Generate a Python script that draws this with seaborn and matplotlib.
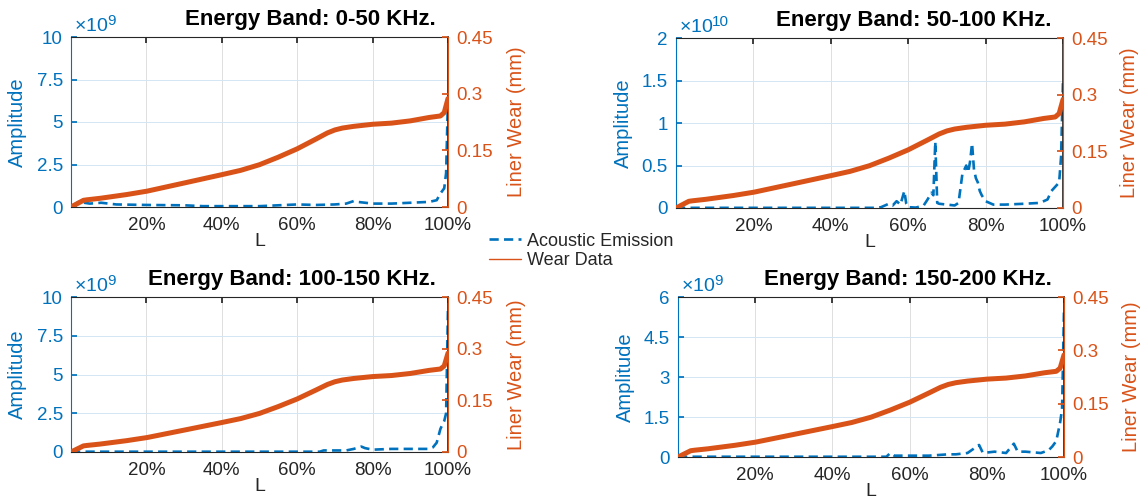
import numpy as np
import pandas as pd
import matplotlib.pyplot as plt
import seaborn as sns
from matplotlib.lines import Line2D

# wear curve (same in every panel), L as fraction of life, wear in mm
wear_L = [0.0, 0.033, 0.042, 0.077, 0.148, 0.202, 0.30, 0.40, 0.45, 0.50, 0.55,
          0.60, 0.65, 0.68, 0.70, 0.72, 0.75, 0.80, 0.85, 0.90, 0.95, 0.98, 0.99, 1.0]
wear_mm = [0.0, 0.0177, 0.019, 0.023, 0.033, 0.042, 0.0635, 0.0856, 0.097, 0.112, 0.132,
           0.154, 0.180, 0.196, 0.204, 0.209, 0.2135, 0.219, 0.222, 0.228, 0.237, 0.241,
           0.25, 0.287]

# acoustic emission amplitude, in units of 1e9
ae_L_0_50 = [0.0, 0.02, 0.05, 0.08, 0.12, 0.20, 0.30, 0.35, 0.40, 0.50, 0.55, 0.60,
             0.65, 0.70, 0.73, 0.75, 0.76, 0.78, 0.80, 0.85, 0.90, 0.95, 0.97,
             0.98, 0.99, 0.995, 1.0]
ae_0_50 = [0.0, 0.3, 0.2, 0.25, 0.15, 0.12, 0.1, 0.05, 0.05, 0.05, 0.1, 0.15,
           0.12, 0.15, 0.2, 0.35, 0.3, 0.25, 0.2, 0.2, 0.25, 0.3, 0.4,
           0.8, 1.1, 2.0, 6.5]

ae_L_50_100 = [0.0, 0.52, 0.53, 0.55, 0.56, 0.57, 0.58, 0.59, 0.595, 0.60, 0.62, 0.64,
               0.65, 0.66, 0.665, 0.67, 0.675, 0.68, 0.70, 0.72, 0.73, 0.74, 0.75,
               0.755, 0.76, 0.765, 0.77, 0.775, 0.78, 0.785, 0.79, 0.80, 0.82, 0.85,
               0.90, 0.94, 0.96, 0.97, 0.98, 0.99, 0.995, 1.0]
ae_50_100 = [0.02, 0.02, 0.1, 0.5, 0.3, 0.8, 0.4, 2.0, 0.5, 0.1, 0.05, 0.3,
             1.0, 1.8, 1.5, 7.8, 0.6, 0.5, 0.4, 0.3, 0.6, 4.0, 5.0,
             4.2, 5.5, 7.6, 4.5, 3.5, 3.0, 2.0, 1.5, 0.8, 0.4, 0.4,
             0.5, 0.6, 1.0, 2.0, 2.5, 3.0, 6.0, 15.0]

ae_L_100_150 = [0.0, 0.66, 0.67, 0.70, 0.73, 0.75, 0.77, 0.78, 0.80, 0.85, 0.90,
                0.95, 0.96, 0.97, 0.98, 0.99, 0.995, 1.0]
ae_100_150 = [0.02, 0.02, 0.1, 0.1, 0.1, 0.2, 0.35, 0.25, 0.15, 0.2, 0.2,
              0.2, 0.3, 0.6, 1.5, 2.0, 2.5, 9.3]

ae_L_150_200 = [0.0, 0.54, 0.55, 0.56, 0.60, 0.65, 0.70, 0.72, 0.75, 0.78, 0.79,
                0.82, 0.85, 0.87, 0.88, 0.90, 0.94, 0.96, 0.97, 0.98, 0.99, 0.995, 1.0]
ae_150_200 = [0.01, 0.01, 0.15, 0.05, 0.05, 0.05, 0.1, 0.1, 0.15, 0.45, 0.15,
              0.2, 0.15, 0.5, 0.2, 0.2, 0.15, 0.25, 0.4, 0.6, 1.3, 1.8, 5.5]

titles = ["Energy Band: 0-50 KHz.", "Energy Band: 50-100 KHz.",
          "Energy Band: 100-150 KHz.", "Energy Band: 150-200 KHz."]
amp_max = [10e9, 2e10, 10e9, 6e9]
amp_tick_labels = [["0", "2.5", "5", "7.5", "10"],
                   ["0", "0.5", "1", "1.5", "2"],
                   ["0", "2.5", "5", "7.5", "10"],
                   ["0", "1.5", "3", "4.5", "6"]]
amp_exp = ["9", "10", "9", "9"]
wear_ticks = [0, 0.15, 0.3, 0.45]
wear_tick_labels = ["0", "0.15", "0.3", "0.45"]
x_ticks = [0.2, 0.4, 0.6, 0.8, 1.0]
x_tick_labels = ["20%", "40%", "60%", "80%", "100%"]

BLUE = "#0072BD"
ORANGE = "#D95319"
DARK = "#262626"

sns.set_theme(style="white")
plt.rcParams["font.family"] = ["Liberation Sans", "DejaVu Sans"]
plt.rcParams["mathtext.fontset"] = "custom"
plt.rcParams["mathtext.rm"] = "Liberation Sans"
plt.rcParams["mathtext.it"] = "Liberation Sans"

W, H = 1142, 500
fig = plt.figure(figsize=(W / 100, H / 100), dpi=100)

# axes boxes in pixels: left, top, right, bottom
boxes = [(71, 37, 448, 207), (676, 38, 1063, 208),
         (71, 297, 448, 452), (678, 297, 1064, 457)]
ylab_l = [27, 633, 27, 635]
ylab_r = [507, 1120, 507, 1122]

ae_sets = [(ae_L_0_50, ae_0_50), (ae_L_50_100, ae_50_100),
           (ae_L_100_150, ae_100_150), (ae_L_150_200, ae_150_200)]

wear_df = pd.DataFrame({"L": wear_L, "wear": wear_mm})

for i, (l, t, r, b) in enumerate(boxes):
    wpx, hpx = r - l, b - t
    ax = fig.add_axes([l / W, (H - b) / H, wpx / W, hpx / H])
    ae_df = pd.DataFrame({"L": ae_sets[i][0],
                          "amp": np.array(ae_sets[i][1]) * 1e9})
    sns.lineplot(data=ae_df, x="L", y="amp", ax=ax, color=BLUE, lw=1.9,
                 linestyle=(0, (3.5, 2.0)), estimator=None)
    ax.set_xlim(0, 1)
    ax.set_ylim(0, amp_max[i])
    ax.set_xticks(x_ticks)
    ax.set_xticklabels(x_tick_labels)
    ax.set_yticks(np.linspace(0, amp_max[i], 5))
    ax.set_yticklabels(amp_tick_labels[i])
    ax.tick_params(axis="x", direction="in", length=4, pad=7, labelsize=13.5,
                   colors=DARK, top=True)
    ax.tick_params(axis="y", direction="in", length=4, pad=5.8, labelsize=13.5,
                   colors=BLUE)
    ax.grid(axis="x", color="#dedede", lw=0.7)
    ax.grid(axis="y", color="#d3e6f4", lw=0.7)
    ax.set_axisbelow(True)
    ax.set_xlabel("L", fontsize=14, color=DARK)
    ax.xaxis.set_label_coords(0.5, -26 / hpx)
    ax.set_ylabel("Amplitude", fontsize=14.5, color=BLUE)
    ax.yaxis.set_label_coords((ylab_l[i] - l) / wpx, 0.5)
    for s in ["top", "bottom"]:
        ax.spines[s].set_color(DARK)
        ax.spines[s].set_linewidth(0.8)
    ax.spines["left"].set_color(BLUE)
    ax.spines["left"].set_linewidth(0.8)
    # scale factor shown above the left axis
    ax.text(3 / wpx, 1 + 2 / hpx, r"$\times$10", transform=ax.transAxes,
            ha="left", va="bottom", fontsize=14, color=BLUE)
    ax.text(3 / wpx + 33 / wpx, 1 + 9 / hpx, amp_exp[i], transform=ax.transAxes,
            ha="left", va="bottom", fontsize=11, color=BLUE)
    ax.text(1 - 12 / wpx, 1 + 7 / hpx, titles[i], transform=ax.transAxes,
            ha="right", va="bottom", fontsize=16, fontweight="bold", color="black")

    ax2 = ax.twinx()
    sns.lineplot(data=wear_df, x="L", y="wear", ax=ax2, color=ORANGE, lw=3.6,
                 estimator=None)
    ax2.set_ylim(0, 0.45)
    ax2.set_yticks(wear_ticks)
    ax2.set_yticklabels(wear_tick_labels)
    ax2.tick_params(axis="y", direction="in", length=4, pad=5.8, labelsize=13.5,
                    colors=ORANGE)
    ax2.set_ylabel("Liner Wear (mm)", fontsize=14.5, color=ORANGE)
    ax2.yaxis.set_label_coords((ylab_r[i] - l) / wpx, 0.5)
    ax2.spines["right"].set_color(ORANGE)
    ax2.spines["right"].set_linewidth(0.8)
    ax2.spines["left"].set_visible(False)
    ax2.spines["top"].set_visible(False)
    ax2.spines["bottom"].set_visible(False)
    ax2.grid(False)
    ax2.set_xlim(0, 1)

handles = [Line2D([], [], color=BLUE, lw=1.9, linestyle=(0, (3.5, 2.0))),
           Line2D([], [], color=ORANGE, lw=1.0)]
fig.legend(handles, ["Acoustic Emission", "Wear Data"], loc="center",
           bbox_to_anchor=(581 / W, 1 - 251 / H), frameon=False, fontsize=13,
           handlelength=1.8, handletextpad=0.3, labelspacing=0.15, borderpad=0)

fig.savefig("out.png", dpi=100)
